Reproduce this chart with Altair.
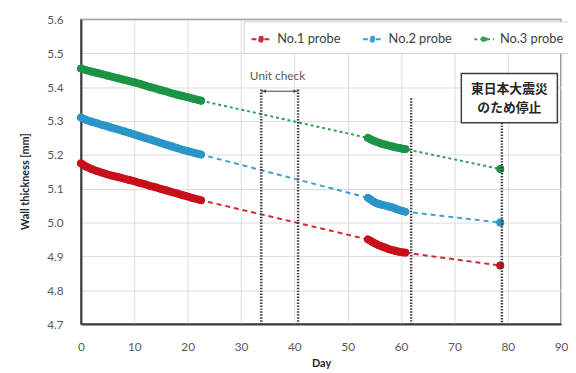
import altair as alt
import pandas as pd

series_names = ["No.1 probe", "No.2 probe", "No.3 probe"]
colors = ["#c8101a", "#2a95c8", "#1c9446"]

days1 = [0, 1, 2, 3, 4, 5, 6, 7, 8, 9, 10, 11, 12, 13, 14, 15, 16, 17, 18, 19, 20, 21, 22, 22.5]
red1 = [5.175, 5.165, 5.158, 5.152, 5.147, 5.142, 5.138, 5.134, 5.130, 5.126, 5.122, 5.117,
        5.113, 5.108, 5.104, 5.099, 5.095, 5.090, 5.086, 5.081, 5.077, 5.072, 5.068, 5.066]
blue1 = [5.310, 5.303, 5.298, 5.293, 5.288, 5.284, 5.279, 5.275, 5.270, 5.265, 5.260, 5.255,
         5.250, 5.245, 5.240, 5.235, 5.230, 5.225, 5.220, 5.215, 5.211, 5.207, 5.203, 5.201]
green1 = [5.455, 5.450, 5.446, 5.442, 5.438, 5.434, 5.430, 5.426, 5.422, 5.418, 5.414, 5.410,
          5.405, 5.400, 5.396, 5.391, 5.387, 5.382, 5.378, 5.374, 5.370, 5.366, 5.362, 5.360]

days2 = [53.8, 54.3, 54.8, 55.3, 55.8, 56.3, 56.8, 57.3, 57.8, 58.3, 58.8, 59.3, 59.8, 60.3, 60.8]
red2 = [4.950, 4.946, 4.941, 4.937, 4.933, 4.930, 4.927, 4.924, 4.921, 4.919, 4.917, 4.915, 4.913, 4.912, 4.911]
blue2 = [5.073, 5.068, 5.062, 5.058, 5.055, 5.053, 5.051, 5.049, 5.047, 5.045, 5.042, 5.039, 5.036, 5.034, 5.032]
green2 = [5.250, 5.246, 5.242, 5.239, 5.236, 5.233, 5.231, 5.229, 5.227, 5.225, 5.223, 5.221, 5.220, 5.218, 5.217]

days3 = [78.6]
red3 = [4.873]
blue3 = [5.000]
green3 = [5.158]

y_ticks = [4.7, 4.8, 4.9, 5.0, 5.1, 5.2, 5.3, 5.4, 5.5, 5.6]
x_ticks = [0, 10, 20, 30, 40, 50, 60, 70, 80, 90]

vline_days = [33.8, 40.7, 61.9, 78.9]
vline_tops = [5.393, 5.393, 5.367, 5.295]

unit_label = "Unit check"
unit_from, unit_to, unit_y = 33.8, 40.7, 5.388
note_lines = ["東日本大震災", "のため停止"]
note_box = {"x": 71.3, "x2": 89.3, "y": 5.44, "y2": 5.295}

rows = []
for name, segs in zip(series_names, [(red1, red2, red3), (blue1, blue2, blue3), (green1, green2, green3)]):
    for seg_id, (dd, vv) in enumerate(zip([days1, days2, days3], segs), start=1):
        for d, v in zip(dd, vv):
            rows.append({"series": name, "day": d, "value": v, "seg": f"{name}-{seg_id}"})
df = pd.DataFrame(rows)

xs = alt.Scale(domain=[0, 90], nice=False)
ys = alt.Scale(domain=[4.7, 5.6], nice=False, zero=False)
cs = alt.Scale(domain=series_names, range=colors)

font = "Lato"

x_enc = alt.X("day:Q", scale=xs, title="Day",
              axis=alt.Axis(values=x_ticks, tickCount=20, grid=True, gridColor="#dcdcdc",
                            labelOverlap=False, labelFlush=False,
                            domainColor="#3a3a3a", domainWidth=2, tickSize=0, labelPadding=18,
                            labelFontSize=12, labelColor="#595959", labelFont=font,
                            titleFont=font, titleFontSize=11, titleFontWeight="bold",
                            titleColor="#262626", titleY=40, titleBaseline="middle"))
y_enc = alt.Y("value:Q", scale=ys, title="Wall thickness  [mm]",
              axis=alt.Axis(values=y_ticks, tickCount=20, format=".1f", grid=True,
                            labelOverlap=False, labelFlush=False,
                            gridColor="#dcdcdc", domainColor="#3a3a3a", domainWidth=2, tickSize=0,
                            labelPadding=18, labelFontSize=12, labelColor="#595959", labelFont=font,
                            titleFont=font, titleFontSize=11, titleFontWeight="bold",
                            titleColor="#262626", titleX=-56, titleY=164, titleBaseline="middle",
                            titleAngle=270))

base = alt.Chart(df)

legend_path = ("M-1,0L-0.3,0M0.3,0L1,0"
               "M-0.24,0A0.24,0.24 0 1,0 0.24,0A0.24,0.24 0 1,0 -0.24,0"
               "M-0.11,0A0.11,0.11 0 1,0 0.11,0A0.11,0.11 0 1,0 -0.11,0")
color_enc = alt.Color("series:N", scale=cs,
                      legend=alt.Legend(title=None, orient="none", legendX=165, legendY=2,
                                        direction="horizontal", fillColor="white",
                                        strokeColor="#d0d0d0", padding=7, columnPadding=18,
                                        symbolType=legend_path, symbolSize=400,
                                        symbolStrokeWidth=1.6, labelFont=font, labelFontSize=13,
                                        labelColor="#404040", labelOffset=5))

dashed = base.mark_line(opacity=0.9).encode(
    x=x_enc, y=y_enc,
    color=color_enc,
    strokeDash=alt.StrokeDash("series:N", scale=alt.Scale(domain=series_names, range=[[5, 4], [5, 4], [3, 3]]), legend=None),
    strokeWidth=alt.StrokeWidth("series:N", scale=alt.Scale(domain=series_names, range=[2, 2, 1.3]), legend=None),
    order="day:Q",
)

solid = base.mark_line(strokeWidth=8, strokeCap="round").encode(
    x="day:Q", y="value:Q",
    color=alt.Color("series:N", scale=cs),
    detail="seg:N",
    order="day:Q",
)

pts = base.mark_circle(size=60, opacity=1).encode(
    x="day:Q", y="value:Q",
    color=alt.Color("series:N", scale=cs),
)

vdf = pd.DataFrame({"day": vline_days, "top": vline_tops, "bottom": [4.7] * len(vline_days)})
vlines = alt.Chart(vdf).mark_rule(color="#3f3f3f", strokeWidth=2.5, strokeDash=[1.5, 1.5]).encode(
    x="day:Q", y="top:Q", y2="bottom:Q")

adf = pd.DataFrame({"x": [unit_from], "x2": [unit_to], "y": [unit_y]})
arrow = alt.Chart(adf).mark_rule(color="#404040", strokeWidth=1).encode(x="x:Q", x2="x2:Q", y="y:Q")
hdf = pd.DataFrame({"x": [unit_from + 0.55, unit_to - 0.55], "y": [unit_y, unit_y],
                    "shape": ["triangle-left", "triangle-right"]})
heads = alt.Chart(hdf).mark_point(filled=True, color="#404040", size=14, opacity=1).encode(
    x="x:Q", y="y:Q", shape=alt.Shape("shape:N", scale=None, legend=None))
tdf = pd.DataFrame({"x": [(unit_from + unit_to) / 2 - 0.4], "y": [5.432], "t": [unit_label]})
utext = alt.Chart(tdf).mark_text(font=font, fontSize=12, color="#595959").encode(
    x="x:Q", y="y:Q", text="t:N")

bdf = pd.DataFrame([note_box])
box = alt.Chart(bdf).mark_rect(fill="white", stroke="#3f3f3f", strokeWidth=1.5).encode(
    x="x:Q", x2="x2:Q", y="y:Q", y2="y2:Q")
ndf = pd.DataFrame({"x": [80.3, 80.3], "y": [5.395, 5.337], "t": note_lines})
ntext = alt.Chart(ndf).mark_text(font="Noto Sans CJK JP", fontSize=13, fontWeight="bold",
                                 color="#262626").encode(x="x:Q", y="y:Q", text="t:N")

chart = alt.layer(dashed, solid, pts, vlines, arrow, heads, utext, box, ntext).properties(
    width=487, height=309,
    autosize=alt.AutoSizeParams(type="none"),
    padding={"left": 74, "top": 9, "right": 7, "bottom": 47},
).configure_view(stroke="#6a6a6a", strokeWidth=1.5)

chart.save("out.html", embed_options={"renderer": "svg", "actions": False})
